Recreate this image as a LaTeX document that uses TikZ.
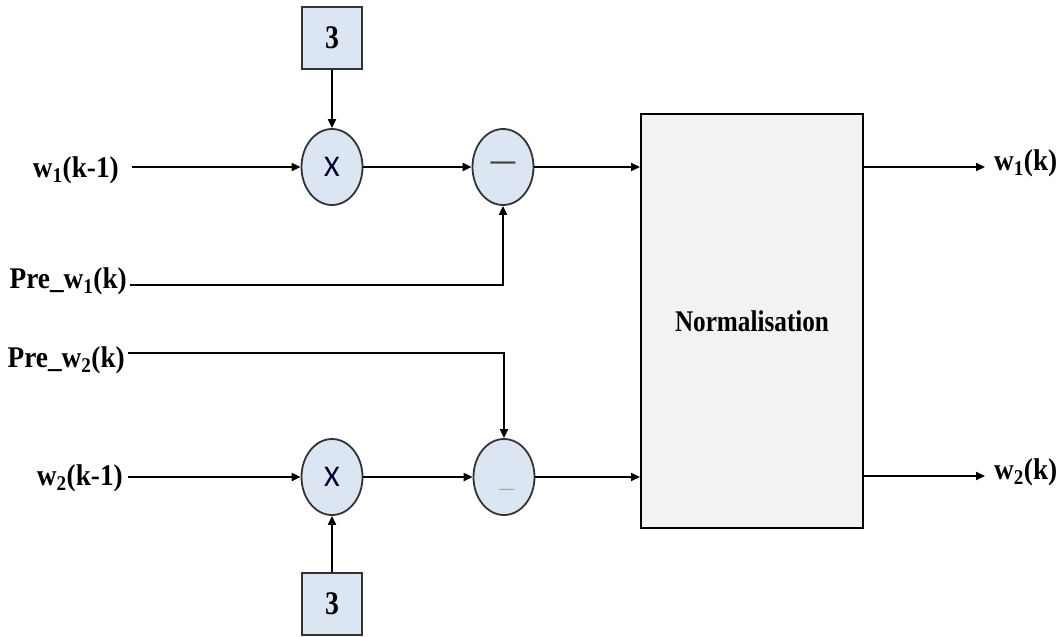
\documentclass[tikz,border=0pt]{standalone}
\usepackage{fontspec}
\setmainfont{Liberation Serif}
\newfontfamily\calfont{Carlito}
\usetikzlibrary{arrows.meta,shapes.geometric}
\definecolor{edgec}{HTML}{333333}
\definecolor{bluef}{HTML}{DCE6F2}
\definecolor{grayf}{HTML}{F2F2F2}
\newcommand{\lbl}[1]{\scalebox{0.91}[1]{\bfseries #1}}
\newcommand{\nlbl}[1]{\scalebox{0.84}[1]{\bfseries #1}}
\tikzset{
  opnode/.style={ellipse, draw=edgec, line width=1.8pt, fill=bluef, minimum width=61pt, minimum height=76pt, inner sep=0pt},
  constbox/.style={rectangle, draw=edgec, line width=1.8pt, fill=bluef, minimum width=60pt, minimum height=62pt, inner sep=0pt, font=\fontsize{33}{34}\selectfont},
  normbox/.style={rectangle, draw=black, line width=2pt, fill=grayf, minimum width=222pt, minimum height=414pt, inner sep=0pt, font=\fontsize{30}{32}\selectfont},
  sig/.style={font=\fontsize{30}{32}\selectfont, inner sep=2pt},
  conn/.style={line width=2pt, black},
  arr/.style={conn, -{Triangle[length=9pt,width=8pt]}}
}
\begin{document}
\begin{tikzpicture}[x=1pt,y=-1pt]
\useasboundingbox (0,0) rectangle (1060,637);
% constant boxes
\node[constbox] (c1) at (332,38) {\nlbl{3}};
\node[constbox] (c2) at (332,604) {\nlbl{3}};
% multipliers
\node[opnode] (x1) at (332,167) {\calfont\fontsize{30}{30}\selectfont\color{black!80!blue}X};
\node[opnode] (x2) at (332,477) {\calfont\fontsize{30}{30}\selectfont\color{black!80!blue}X};
% subtractors
\node[opnode] (m1) at (503,167) {\calfont\fontsize{34}{34}\selectfont\color{black!75}—};
\node[opnode] (m2) at (504,477) {};
\node[text=black!35, inner sep=0pt, font=\calfont\fontsize{20}{20}\selectfont] (m2s) at (507,492) {—};
% normalisation
\node[normbox] (nb) at (752,321) {\nlbl{Normalisation}};
% input labels
\node[sig, anchor=east] (w1in) at (121,170) {\lbl{w\textsubscript{1}(k-1)}};
\node[sig, anchor=east] (p1in) at (129,281) {\lbl{Pre\_w\textsubscript{1}(k)}};
\node[sig, anchor=east] (p2in) at (127,360) {\lbl{Pre\_w\textsubscript{2}(k)}};
\node[sig, anchor=east] (w2in) at (125,478) {\lbl{w\textsubscript{2}(k-1)}};
% output labels
\node[sig, anchor=west] (w1out) at (992,163) {\lbl{w\textsubscript{1}(k)}};
\node[sig, anchor=west] (w2out) at (992,472) {\lbl{w\textsubscript{2}(k)}};
\coordinate (o1) at (985,167);
\coordinate (o2) at (985,476);
\coordinate (p1s) at (130,285);
\coordinate (p2s) at (128,353);
\coordinate (w1s) at (132,167);
\coordinate (w2s) at (128,477);
% connectors
\draw[arr] (c1.south) -- (x1.north);
\draw[arr] (c2.north) -- (x2.south);
\draw[arr] (w1s) -- (x1.west);
\draw[arr] (w2s) -- (x2.west);
\draw[arr] (x1.east) -- (m1.west);
\draw[arr] (x2.east) -- (m2.west);
\draw[arr] (p1s) -| (m1.south);
\draw[arr] (p2s) -| (m2.north);
\draw[arr] (m1.east) -- (m1.east -| nb.west);
\draw[arr] (m2.east) -- (m2.east -| nb.west);
\draw[arr] (nb.east |- o1) -- (o1);
\draw[arr] (nb.east |- o2) -- (o2);
\end{tikzpicture}
\end{document}
